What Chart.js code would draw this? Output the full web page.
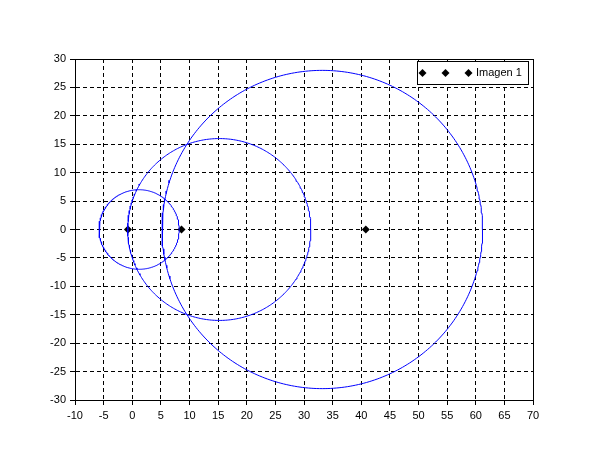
<!DOCTYPE html>
<html><head><meta charset="utf-8">
<script src="https://cdn.jsdelivr.net/npm/chart.js@4/dist/chart.umd.min.js"></script>
<style>html,body{margin:0;padding:0;background:#fff}#wrap{width:610px;height:460px}</style>
</head><body><div id="wrap"><canvas id="c" width="610" height="460"></canvas></div>
<script>
// ---- data ----
const xTicks = [-10, -5, 0, 5, 10, 15, 20, 25, 30, 35, 40, 45, 50, 55, 60, 65, 70];
const yTicks = [-30, -25, -20, -15, -10, -5, 0, 5, 10, 15, 20, 25, 30];
const circleCenterX = [1.2, 15.2, 33.2];
const circleCenterY = [0, 0, 0];
const circleRadius = [7.0, 16.0, 28.0];
const pointX = [-0.75, 8.6, 40.8];
const pointY = [0, 0, 0];
const legendLabel = 'Imagen 1';

// ---- build datasets (circle outlines from centre + radius) ----
const SEG = 360;
const datasets = circleCenterX.map((cx, i) => {
  const pts = [];
  for (let k = 0; k <= SEG; k++) {
    const a = 2 * Math.PI * k / SEG;
    pts.push({x: cx + circleRadius[i] * Math.cos(a), y: circleCenterY[i] + circleRadius[i] * Math.sin(a)});
  }
  return {data: pts, showLine: true, borderColor: '#0000ff', borderWidth: 1, pointRadius: 0, fill: false, tension: 0};
});
datasets.push({
  label: legendLabel,
  data: pointX.map((x, i) => ({x, y: pointY[i]})),
  showLine: false, pointStyle: 'rectRot', pointRadius: 4,
  backgroundColor: '#000', borderColor: '#000', borderWidth: 0
});

const FONT = {family: '"Liberation Sans", Arial, Helvetica, sans-serif', size: 11};

const framePlugin = {
  id: 'frame',
  afterDatasetsDraw(chart) {
    const {ctx, chartArea: a} = chart;
    ctx.save();
    ctx.strokeStyle = '#000';
    ctx.lineWidth = 1;
    ctx.setLineDash([]);
    ctx.strokeRect(Math.round(a.left) + 0.5, Math.round(a.top) + 0.5,
      Math.round(a.right - a.left), Math.round(a.bottom - a.top));
    // legend
    const lx = 417, ly = 61, lw = 111, lh = 23;
    ctx.fillStyle = '#fff';
    ctx.fillRect(lx, ly, lw, lh);
    ctx.strokeRect(lx + 0.5, ly + 0.5, lw, lh);
    ctx.fillStyle = '#000';
    const cy = ly + lh / 2 + 0.5;
    [422.5, 445.5, 468.5].forEach(px => {
      ctx.beginPath();
      ctx.moveTo(px, cy - 4); ctx.lineTo(px + 4, cy); ctx.lineTo(px, cy + 4); ctx.lineTo(px - 4, cy);
      ctx.closePath(); ctx.fill();
    });
    ctx.font = FONT.size + 'px ' + FONT.family;
    ctx.textBaseline = 'middle';
    ctx.textAlign = 'left';
    ctx.fillText(legendLabel, 476, cy);
    ctx.restore();
  }
};

const gridOpts = {color: '#000', lineWidth: 1, tickLength: 5, tickColor: '#000', drawTicks: true};
new Chart(document.getElementById('c'), {
  type: 'scatter',
  data: {datasets},
  options: {
    responsive: false, animation: false, devicePixelRatio: 1,
    layout: {padding: {top: 59, right: 77, left: 0, bottom: 0}},
    plugins: {legend: {display: false}, tooltip: {enabled: false}},
    scales: {
      x: {
        type: 'linear', min: xTicks[0], max: xTicks[xTicks.length - 1],
        afterBuildTicks: s => { s.ticks = xTicks.map(v => ({value: v})); },
        afterFit: s => { s.height = 60; },
        grid: gridOpts,
        border: {display: true, color: '#000', width: 1, dash: [4, 3]},
        ticks: {color: '#000', font: FONT, padding: 4, maxRotation: 0, autoSkip: false}
      },
      y: {
        type: 'linear', min: yTicks[0], max: yTicks[yTicks.length - 1],
        afterBuildTicks: s => { s.ticks = yTicks.map(v => ({value: v})); },
        afterFit: s => { s.width = 75; },
        grid: gridOpts,
        border: {display: true, color: '#000', width: 1, dash: [4, 3]},
        ticks: {color: '#000', font: FONT, padding: 4, autoSkip: false}
      }
    }
  },
  plugins: [framePlugin]
});
</script></body></html>
